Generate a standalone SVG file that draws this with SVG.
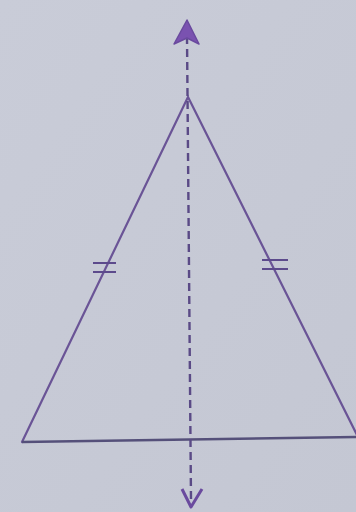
<svg xmlns="http://www.w3.org/2000/svg" width="356" height="512" viewBox="0 0 356 512">
<style>
.side{stroke:#6a5496;stroke-width:2.2;fill:none;stroke-linecap:round}
.base{stroke:#55507a;stroke-width:2.4;fill:none}
.tick{stroke:#5c4a8c;stroke-width:2;fill:none}
.axis{stroke:#5a4a86;stroke-width:2.4;stroke-dasharray:8 5;fill:none}
</style>
<defs>
<linearGradient id="bg" x1="0" y1="0" x2="1" y2="1">
<stop offset="0" stop-color="#c9ccd8"/>
<stop offset="1" stop-color="#c4c7d3"/>
</linearGradient>
</defs>
<rect width="356" height="512" fill="url(#bg)"/>
<g id="triangle">
<polyline class="side" points="22,442 188,97 360,441"/>
<line class="base" x1="22" y1="442" x2="356" y2="437"/>
</g>
<g id="ticks">
<line class="tick" x1="93" y1="263" x2="116" y2="263"/>
<line class="tick" x1="93" y1="272" x2="116" y2="272"/>
<line class="tick" x1="262" y1="260" x2="288" y2="260"/>
<line class="tick" x1="262" y1="269" x2="288" y2="269"/>
</g>
<g id="connectors">
<line class="axis" x1="187" y1="36" x2="191" y2="500"/>
<path d="M187,20 L199,44 L187,38 L174,44 Z" fill="#7a52b0" stroke="#6a4a9e" stroke-width="1.5" stroke-linejoin="round"/>
<polyline points="182,489 191,507 202,489" fill="none" stroke="#6a4a9e" stroke-width="3" stroke-linejoin="round"/>
</g>
</svg>
